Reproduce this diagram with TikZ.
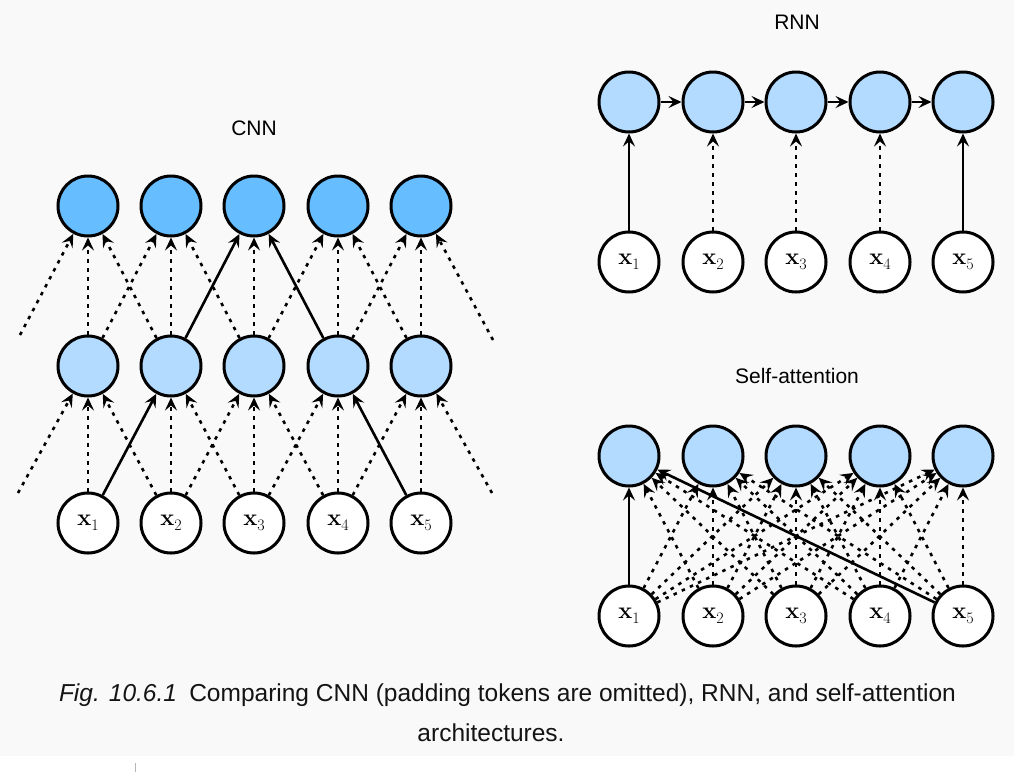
\documentclass[tikz,border=0pt]{standalone}
\usepackage{fontspec}
\usetikzlibrary{arrows.meta}
\newfontfamily\labelfont{Liberation Sans}
\definecolor{bgc}{HTML}{F9F9F9}
\definecolor{tickc}{HTML}{B4B4B4}
\definecolor{topblue}{HTML}{66BDFF}
\definecolor{lightblue}{HTML}{B3DAFF}
\definecolor{captc}{HTML}{141414}
\newcommand{\xlab}[1]{\textbf{x}\raisebox{-5.5pt}{\fontsize{16}{16}\selectfont #1}}
\tikzset{
  nd/.style={circle, draw=black, line width=3pt, minimum size=60pt, inner sep=0pt, font=\fontsize{23.5}{25}\selectfont},
  topn/.style={nd, fill=topblue},
  hid/.style={nd, fill=lightblue},
  inp/.style={nd, fill=white},
  conn/.style={line width=2.6pt, -{Stealth[length=13pt,width=12pt,inset=5pt]}},
  dsh/.style={conn, dash pattern=on 3.5pt off 5.5pt},
  lbl/.style={font=\labelfont\fontsize{21}{24}\selectfont, inner sep=0pt},
  capt/.style={font=\labelfont\fontsize{24.5}{28}\selectfont, text=captc, inner sep=0pt},
}
\begin{document}
\begin{tikzpicture}[x=1pt,y=-1pt]
\fill[bgc] (0,0) rectangle (1014,756);
\useasboundingbox (0,0) rectangle (1014,772);
\draw[tickc, line width=1.2pt] (135.7,763) -- (135.7,772);

% ---------- CNN ----------
\node[lbl] (cnnlbl) at (254,128) {CNN};
\foreach \i/\x in {1/88,2/171,3/254,4/338,5/421}{
  \node[topn] (ct\i) at (\x,206) {};
  \node[hid] (cm\i) at (\x,366) {};
  \node[inp] (cb\i) at (\x,523) {\xlab{\i}};
}
\foreach \i in {1,...,5}{
  \draw[dsh] (cb\i) -- (cm\i);
  \draw[dsh] (cm\i) -- (ct\i);
}
% diagonals bottom -> middle
\draw[conn] (cb1) -- (cm2);
\draw[dsh] (cb2) -- (cm1);
\draw[dsh] (cb2) -- (cm3);
\draw[dsh] (cb3) -- (cm2);
\draw[dsh] (cb3) -- (cm4);
\draw[dsh] (cb4) -- (cm3);
\draw[dsh] (cb4) -- (cm5);
\draw[conn] (cb5) -- (cm4);
% diagonals middle -> top
\draw[dsh] (cm1) -- (ct2);
\draw[dsh] (cm2) -- (ct1);
\draw[conn] (cm2) -- (ct3);
\draw[dsh] (cm3) -- (ct2);
\draw[dsh] (cm3) -- (ct4);
\draw[conn] (cm4) -- (ct3);
\draw[dsh] (cm4) -- (ct5);
\draw[dsh] (cm5) -- (ct4);
% padding edges
\coordinate (padtl) at (20,335);
\coordinate (padbl) at (18,493);
\coordinate (padtr) at (493,340);
\coordinate (padbr) at (492,493);
\draw[dsh] (padtl) -- (ct1);
\draw[dsh] (padbl) -- (cm1);
\draw[dsh] (padtr) -- (ct5);
\draw[dsh] (padbr) -- (cm5);

% ---------- RNN ----------
\node[lbl] (rnnlbl) at (797,22) {RNN};
\foreach \i/\x in {1/629,2/713,3/796,4/880,5/963}{
  \node[hid] (rh\i) at (\x,102) {};
  \node[inp] (rx\i) at (\x,262) {\xlab{\i}};
}
\draw[conn] (rh1) -- (rh2);
\draw[conn] (rh2) -- (rh3);
\draw[conn] (rh3) -- (rh4);
\draw[conn] (rh4) -- (rh5);
\draw[conn] (rx1) -- (rh1);
\draw[dsh] (rx2) -- (rh2);
\draw[dsh] (rx3) -- (rh3);
\draw[dsh] (rx4) -- (rh4);
\draw[conn] (rx5) -- (rh5);

% ---------- Self-attention ----------
\node[lbl] (salbl) at (797,376) {Self-attention};
\foreach \i/\x in {1/629,2/713,3/796,4/880,5/963}{
  \node[hid] (sh\i) at (\x,456) {};
  \node[inp] (sx\i) at (\x,616) {\xlab{\i}};
}
\foreach \i in {1,...,5}{
  \foreach \j in {2,...,5}{
    \draw[dsh] (sx\i) -- (sh\j);
  }
}
\foreach \i in {2,3,4}{
  \draw[dsh] (sx\i) -- (sh1);
}
\draw[conn] (sx1) -- (sh1);
\draw[conn] (sx5) -- (sh1);

% ---------- caption ----------
\node[capt] (cap1) at (507.5,695) {\textit{Fig. 10.6.1}\hspace{0.5em}Comparing CNN (padding tokens are omitted), RNN, and self-attention};
\node[capt] (cap2) at (491,733) {architectures.};
\end{tikzpicture}
\end{document}
